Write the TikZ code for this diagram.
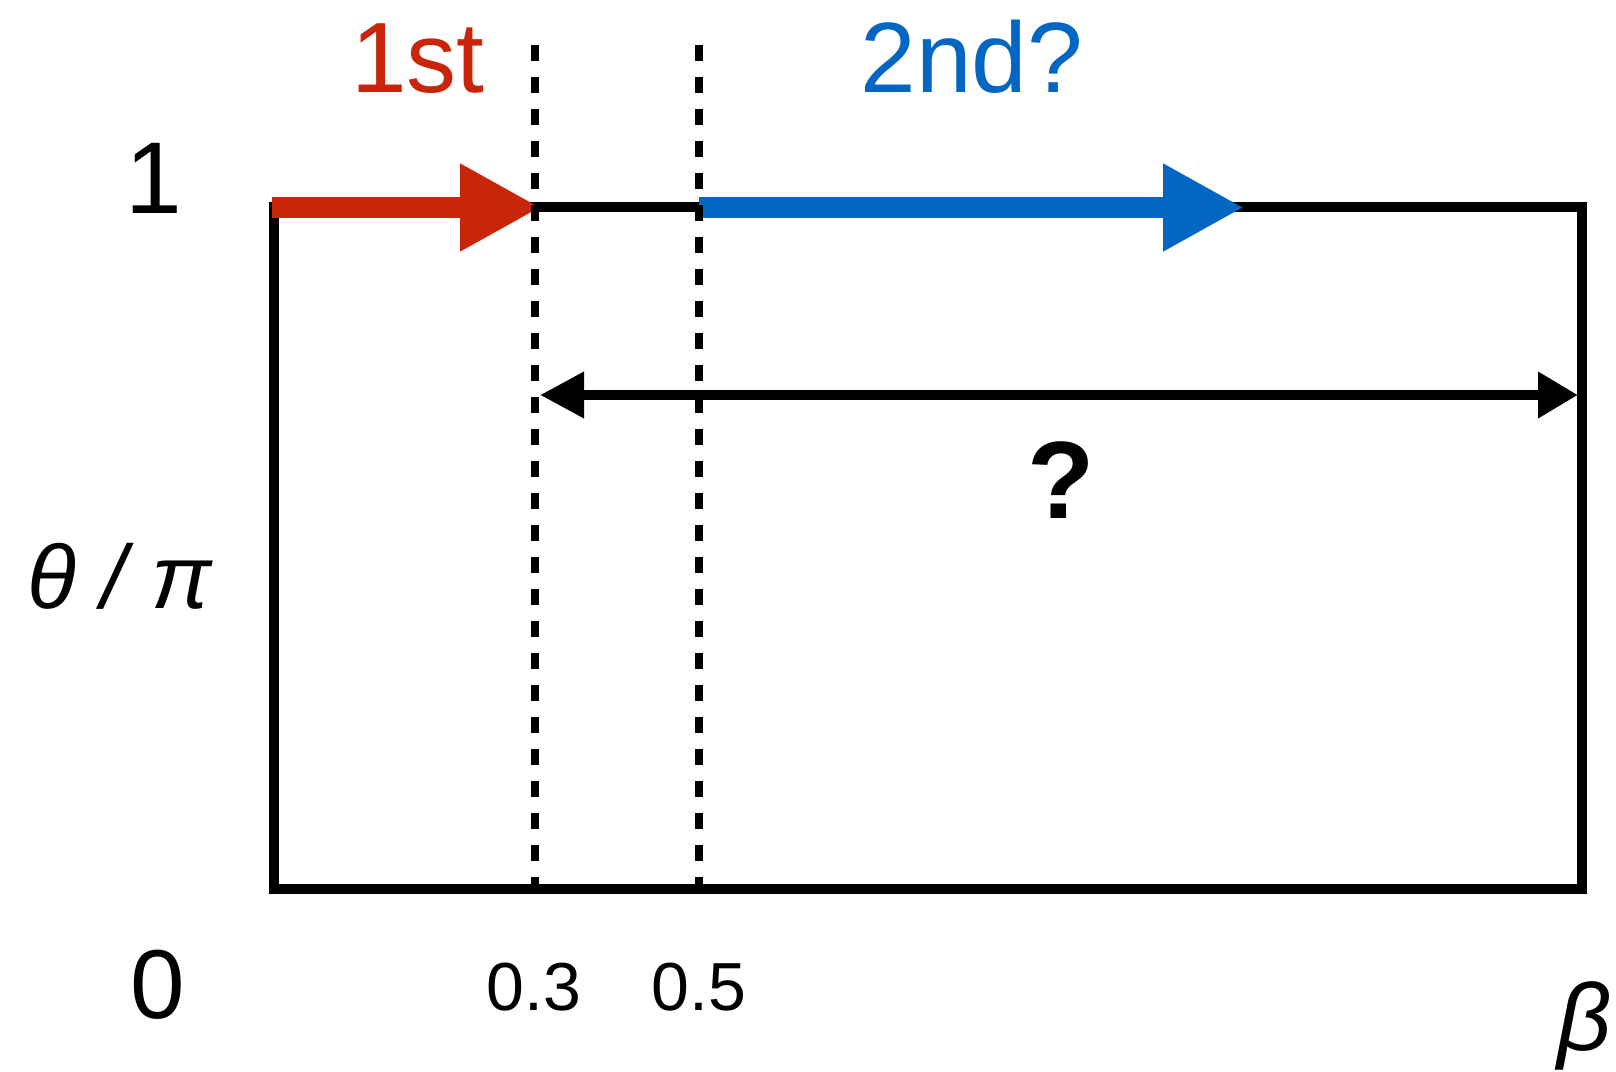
\documentclass[tikz,border=0pt]{standalone}
\usepackage{fontspec}
\setmainfont{Liberation Sans}
\usetikzlibrary{arrows.meta}
\definecolor{redA}{RGB}{200,37,10}
\definecolor{blueA}{RGB}{3,102,194}
\begin{document}
\begin{tikzpicture}[x=1pt,y=-1pt,
  frame/.style={line width=10pt},
  dashline/.style={line width=8pt, dash pattern=on 16pt off 16pt},
  bigarrow/.style={line width=21pt, -{Triangle[length=81pt,width=82pt]}},
  dblarrow/.style={line width=10pt, {Triangle[length=44pt,width=44pt]}-{Triangle[length=40pt,width=44pt]}},
  lab/.style={inner sep=0pt, anchor=base}]
\useasboundingbox (0,0) rectangle (1616,1071);
% frame
\coordinate (tl) at (273.5,207);
\coordinate (br) at (1582,888.5);
\draw[frame] (tl) rectangle (br);
% arrows
\coordinate (rs) at (272,207.5);
\coordinate (re) at (541,207.5);
\coordinate (bs) at (699,207.5);
\coordinate (be) at (1244,207.5);
\draw[bigarrow, redA] (rs) -- (re);
\draw[bigarrow, blueA] (bs) -- (be);
\coordinate (ds) at (540,395);
\coordinate (de) at (1578,395);
\draw[dblarrow] (ds) -- (de);
% dashed lines
\coordinate (d1t) at (535,45);
\coordinate (d1b) at (535,888);
\coordinate (d2t) at (699,45);
\coordinate (d2b) at (699,888);
\draw[dashline] (d1t) -- (d1b);
\draw[dashline] (d2t) -- (d2b);
% labels
\node[lab, text=redA, font=\fontsize{100}{110}\selectfont] (first) at (418,92) {1st};
\node[lab, text=blueA, font=\fontsize{100}{110}\selectfont] (second) at (972,92) {2nd?};
\node[lab, font=\fontsize{110}{120}\selectfont\bfseries] (q) at (1061,518) {?};
\node[lab, font=\fontsize{102}{110}\selectfont] (one) at (154,213) {1};
\node[lab, font=\fontsize{98}{105}\selectfont] (zero) at (158,1018) {0};
\node[lab, font=\fontsize{90}{95}\selectfont\itshape] (theta) at (120,608) {θ / π};
\node[lab, font=\fontsize{68}{72}\selectfont] (t03) at (534,1010) {0.3};
\node[lab, font=\fontsize{68}{72}\selectfont] (t05) at (699,1010) {0.5};
\node[lab, anchor=base east, font=\fontsize{95}{100}\selectfont\itshape] (beta) at (1612,1050) {β};
\end{tikzpicture}
\end{document}
